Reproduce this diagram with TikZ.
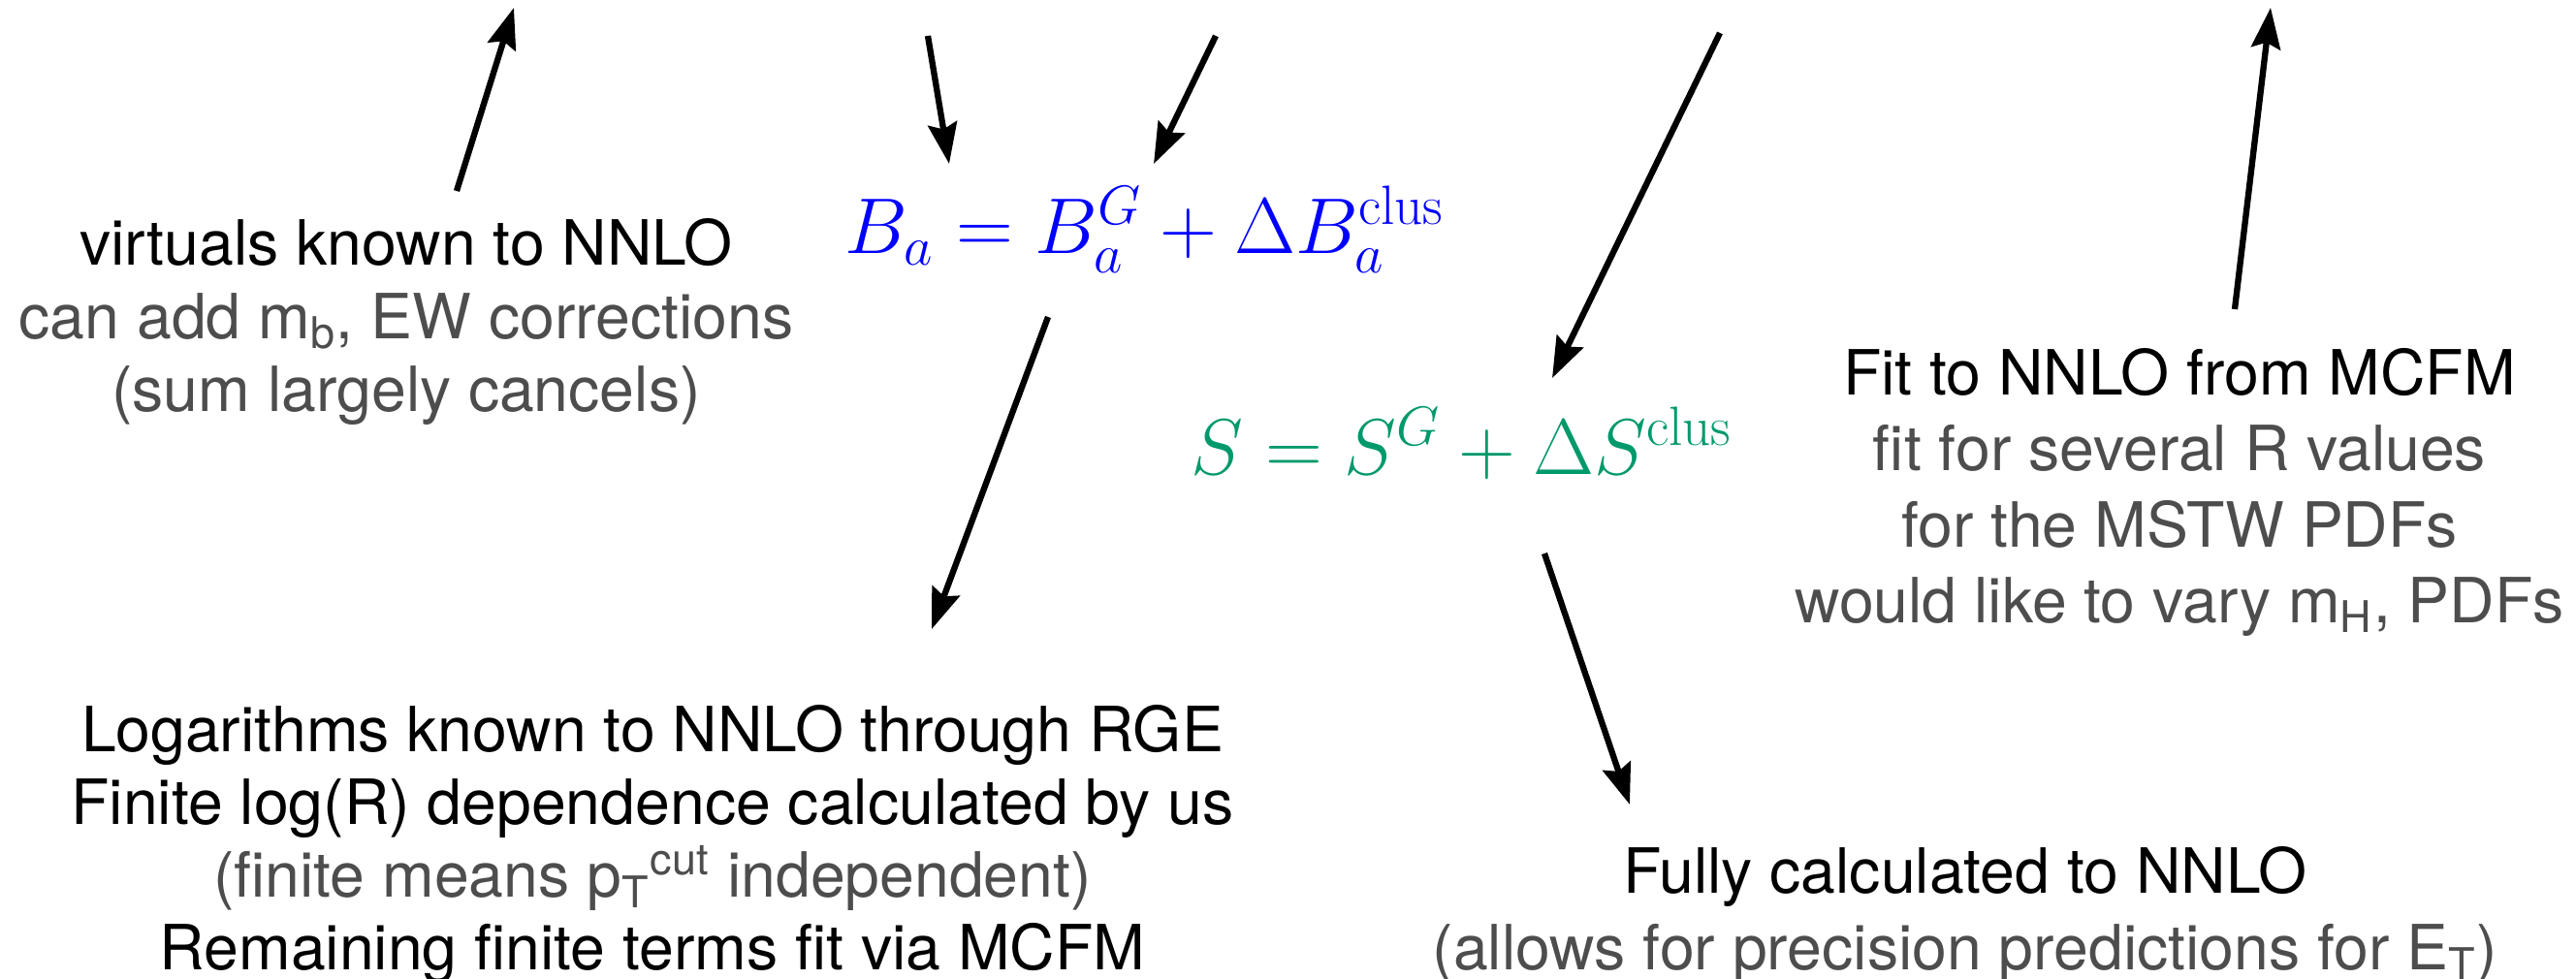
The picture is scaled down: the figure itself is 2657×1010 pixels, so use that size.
\RequirePackage{fix-cm}
\documentclass[tikz,border=0pt]{standalone}
\usepackage{fontspec}
\setsansfont{TeX Gyre Heros}
\usepackage{tikz}
\usetikzlibrary{arrows.meta,calc}
\definecolor{eqblue}{HTML}{0000FF}
\definecolor{eqgreen}{HTML}{00996B}
\definecolor{txtgray}{HTML}{4D4D4D}

\begin{document}
\begin{tikzpicture}[x=0.01cm,y=-0.01cm,font=\sffamily\fontsize{18.3}{21.8}\selectfont]
  \tikzstyle{arr}=[-{Stealth[length=0.42cm,width=0.3cm,inset=0.06cm]},line width=1.8pt]
  \tikzstyle{txt}=[align=center,inner sep=0pt]
  \tikzstyle{eq}=[inner sep=0pt,font=\fontsize{23.2}{27}\selectfont]
  \useasboundingbox (0,0) rectangle (2657,1010);
  % formulas
  \node[eq,text=eqblue]  (beq) at (1181,237) {$B_a = B_a^G + \Delta B_a^{\mathrm{clus}}$};
  \node[eq,text=eqgreen] (seq) at (1508,457) {$S = S^G + \Delta S^{\mathrm{clus}}$};
  % notes
  \node[txt,font=\sffamily\fontsize{18.3}{21.6}\selectfont] (virt) at (419,332) {virtuals known to NNLO\\
    \textcolor{txtgray}{can add m\textsubscript{b}, EW corrections}\\
    \textcolor{txtgray}{(sum largely cancels)}};
  \node[txt,font=\sffamily\fontsize{18.3}{22.2}\selectfont] (fit) at (2248,508) {Fit to NNLO from MCFM\\
    \textcolor{txtgray}{fit for several R values}\\
    \textcolor{txtgray}{for the MSTW PDFs}\\
    \textcolor{txtgray}{would like to vary m\textsubscript{H}, PDFs}};
  \node[txt,font=\sffamily\fontsize{18.3}{21.3}\selectfont] (logs) at (673,871) {Logarithms known to NNLO through RGE\\
    Finite log(R) dependence calculated by us\\
    \textcolor{txtgray}{(finite means p\smash{\textsubscript{T}\textsuperscript{cut}} independent)}\\
    Remaining finite terms fit via MCFM};
  \node[txt,font=\sffamily\fontsize{18.3}{22.2}\selectfont] (full) at (2027,944) {Fully calculated to NNLO\\
    \textcolor{txtgray}{(allows for precision predictions for E\textsubscript{T})}};
  % free ends
  \coordinate (virtup) at (530,8);
  \coordinate (bin1) at (957,37);
  \coordinate (bin2) at (1254,37);
  \coordinate (sin) at (1774,34);
  \coordinate (fitup) at (2342,8);
  % arrows
  \draw[arr] ($(virt)+(52,-135)$) -- (virtup);
  \draw[arr] (bin1) -- ($(beq)+(-202,-68)$);
  \draw[arr] (bin2) -- ($(beq)+(9,-68)$);
  \draw[arr] (sin) -- ($(seq)+(93,-67)$);
  \draw[arr] ($(fit)+(57,-189)$) -- (fitup);
  \draw[arr] ($(beq)+(-100,90)$) -- ($(logs)+(288,-222)$);
  \draw[arr] ($(seq)+(85,114)$) -- ($(full)+(-346,-114)$);
\end{tikzpicture}
\end{document}
